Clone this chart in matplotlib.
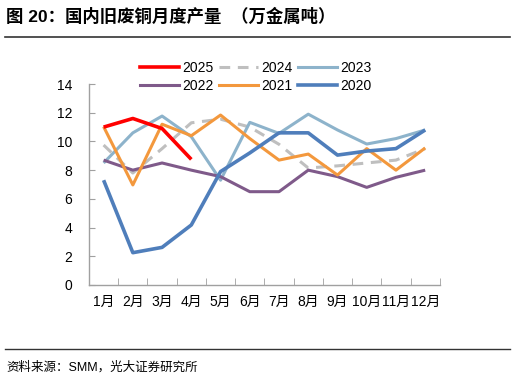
import matplotlib
matplotlib.use("Agg")
import matplotlib.pyplot as plt
from matplotlib.lines import Line2D
import numpy as np

plt.rcParams['font.family'] = ['Liberation Sans', 'Noto Sans CJK SC', 'DejaVu Sans']

months = ['1月', '2月', '3月', '4月', '5月', '6月', '7月', '8月', '9月', '10月', '11月', '12月']
y2025 = [11.0, 11.6, 10.9, 8.75]
y2024 = [9.75, 7.8, 9.5, 11.3, 11.55, 11.0, 9.8, 8.15, 8.3, 8.5, 8.7, 9.5]
y2023 = [8.5, 10.6, 11.77, 10.33, 7.3, 11.33, 10.56, 11.9, 10.8, 9.82, 10.2, 10.8]
y2022 = [8.7, 8.0, 8.5, 8.0, 7.55, 6.5, 6.5, 8.0, 7.55, 6.8, 7.5, 8.0]
y2021 = [11.03, 6.97, 11.2, 10.4, 11.84, 10.2, 8.7, 9.12, 7.66, 9.5, 8.0, 9.55]
y2020 = [7.3, 2.25, 2.62, 4.18, 7.9, 9.2, 10.6, 10.6, 9.05, 9.33, 9.5, 10.8]
yticks = [0, 2, 4, 6, 8, 10, 12, 14]

fig = plt.figure(figsize=(5.15, 3.82), dpi=100)
ax = fig.add_axes([0.1728, 0.254, 0.854 - 0.1728, 0.780 - 0.254])

x = np.arange(len(months))
series = {
    '2025': (y2025, '#FF0000', '-', 2.6, 16),
    '2024': (y2024, '#BFBFBF', (0, (3.5, 2.5)), 2.2, 11),
    '2023': (y2023, '#8DB3CB', '-', 2.2, 12),
    '2022': (y2022, '#7F5A8A', '-', 2.2, 13),
    '2021': (y2021, '#F3983D', '-', 2.2, 14),
    '2020': (y2020, '#4F7EBB', '-', 2.6, 15),
}
for name, (vals, c, ls, lw, z) in series.items():
    ax.plot(x[:len(vals)], vals, color=c, linestyle=ls, lw=lw, zorder=z,
            solid_capstyle='butt', dash_capstyle='butt')

ax.set_xlim(-0.5, 11.5)
ax.set_ylim(0, 14)
ax.set_yticks(yticks)
ax.set_xticks(x)
ax.set_xticklabels(months)
ax.set_xticks(np.arange(-0.5, 12, 1), minor=True)
ax.tick_params(axis='x', which='major', length=0, labelsize=10, pad=7)
ax.tick_params(axis='x', which='minor', length=5, direction='in', color='#A0A0A0')
ax.tick_params(axis='y', length=4, direction='in', color='#A0A0A0', labelsize=10, pad=12)
for s in ['top', 'right']:
    ax.spines[s].set_visible(False)
for s in ['left', 'bottom']:
    ax.spines[s].set_color('#A0A0A0')
    ax.spines[s].set_linewidth(1.0)

# column-major order so rows read 2025 2024 2023 / 2022 2021 2020
leg_order = ['2025', '2022', '2024', '2021', '2023', '2020']
leg_handles = []
for name in leg_order:
    vals, c, ls, lw, z = series[name]
    leg_handles.append(Line2D([0], [0], color=c, linestyle=ls, lw=lw))
fig.legend(leg_handles, leg_order, ncol=3, loc='center',
           bbox_to_anchor=(0.497, 0.799), frameon=False, fontsize=10,
           handlelength=2.8, handletextpad=0.25, columnspacing=0.4,
           labelspacing=0.3, borderpad=0.1)

fig.text(0.012, 0.957, '图 20：国内旧废铜月度产量  （万金属吨）', fontsize=12.5,
         fontweight='bold', ha='left', va='center')
fig.add_artist(Line2D([0.01, 0.99], [0.903, 0.903], color='#333333', lw=1.2))
fig.add_artist(Line2D([0.01, 0.99], [0.087, 0.087], color='#333333', lw=1.0))
fig.text(0.012, 0.037, '资料来源：SMM，光大证券研究所', fontsize=9, ha='left', va='center')

fig.savefig('out.png', dpi=100)
